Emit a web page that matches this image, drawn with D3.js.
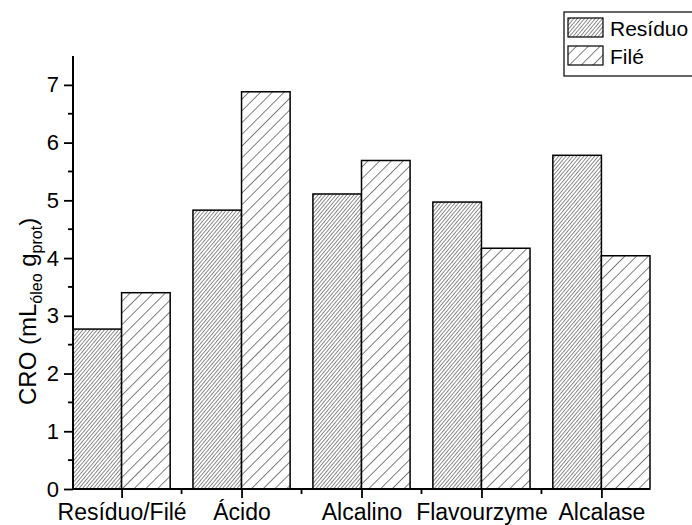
<!DOCTYPE html>
<html>
<head>
<meta charset="utf-8">
<script src="https://cdn.jsdelivr.net/npm/d3@7"></script>
<style>
  html, body { margin: 0; padding: 0; background: #fff; }
  svg { display: block; }
  text { font-family: "Liberation Sans", Arial, Helvetica, sans-serif; fill: #000; }
</style>
</head>
<body>
<svg id="chart" width="692" height="525"></svg>
<script>
// Oil retention capacity per hydrolysis treatment
const categories = ["Resíduo/Filé", "Ácido", "Alcalino", "Flavourzyme", "Alcalase"];
const residuo = [2.77, 4.83, 5.11, 4.97, 5.78];
const file = [3.40, 6.88, 5.69, 4.17, 4.04];
const seriesNames = ["Resíduo", "Filé"];
const yTicks = [0, 1, 2, 3, 4, 5, 6, 7];

const svg = d3.select("#chart");

// plot frame
const plotLeft = 73, plotRight = 650, plotTop = 56, plotBottom = 489;
const halfBar = 0.405;

const x = d3.scaleLinear()
  .domain([-halfBar, categories.length - 1 + halfBar])
  .range([plotLeft, plotRight]);
const y = d3.scaleLinear().domain([0, 7.5]).range([plotBottom, plotTop]);

// hatch patterns
const defs = svg.append("defs");
function hatch(id, spacing, width, angle) {
  const p = defs.append("pattern")
    .attr("id", id)
    .attr("patternUnits", "userSpaceOnUse")
    .attr("width", spacing)
    .attr("height", spacing)
    .attr("patternTransform", `rotate(${angle})`);
  p.append("rect").attr("width", spacing).attr("height", spacing).attr("fill", "#fff");
  p.append("line")
    .attr("x1", 0).attr("y1", 0).attr("x2", 0).attr("y2", spacing)
    .attr("stroke", "#000").attr("stroke-width", width);
}
hatch("hatchDense", 2.75, 0.9, 40);
hatch("hatchSparse", 8.3, 1.0, 45);
const fills = ["url(#hatchDense)", "url(#hatchSparse)"];

// bars
const groups = [residuo, file];
groups.forEach((vals, s) => {
  svg.append("g").selectAll("rect")
    .data(vals)
    .join("rect")
    .attr("x", (d, i) => s === 0 ? x(i - halfBar) : x(i))
    .attr("width", x(halfBar) - x(0))
    .attr("y", d => y(d))
    .attr("height", d => y(0) - y(d))
    .attr("fill", fills[s])
    .attr("stroke", "#000")
    .attr("stroke-width", 1.5);
});

// y axis: major ticks with labels, minor ticks at halves
const yAxis = d3.axisLeft(y).tickValues(yTicks).tickSize(9).tickPadding(5).tickFormat(d3.format("d"));
const gy = svg.append("g").attr("transform", `translate(${plotLeft},0)`).call(yAxis);
gy.select(".domain").attr("stroke-width", 2).attr("d", `M0,${plotBottom}V${plotTop}`);
gy.selectAll(".tick line").attr("stroke-width", 1.8);
gy.selectAll(".tick text").style("font-size", "22px").style("font-family", "'Liberation Sans', Arial, sans-serif");
const yMinor = d3.range(0.5, 7.5, 1);
svg.append("g").selectAll("line").data(yMinor).join("line")
  .attr("x1", plotLeft - 5).attr("x2", plotLeft)
  .attr("y1", d => y(d)).attr("y2", d => y(d))
  .attr("stroke", "#000").attr("stroke-width", 1.8);

// x axis: category ticks and minor ticks between categories
const xAxis = d3.axisBottom(x)
  .tickValues(d3.range(categories.length))
  .tickSize(9).tickPadding(6)
  .tickFormat(i => categories[i]);
const gx = svg.append("g").attr("transform", `translate(0,${plotBottom})`).call(xAxis);
gx.select(".domain").attr("stroke-width", 2).attr("d", `M${plotLeft},0H${plotRight}`);
gx.selectAll(".tick line").attr("stroke-width", 1.8);
gx.selectAll(".tick text").style("font-size", "23px").style("font-family", "'Liberation Sans', Arial, sans-serif");
const xMinor = d3.range(0.5, categories.length - 0.5, 1);
svg.append("g").selectAll("line").data(xMinor).join("line")
  .attr("x1", d => x(d)).attr("x2", d => x(d))
  .attr("y1", plotBottom).attr("y2", plotBottom + 5)
  .attr("stroke", "#000").attr("stroke-width", 1.8);

// y axis title with subscripts
const title = svg.append("text")
  .attr("transform", "translate(36,405) rotate(-90)")
  .attr("text-anchor", "start")
  .style("font-size", "24px");
title.append("tspan").text("CRO (mL");
title.append("tspan").attr("dy", 6).style("font-size", "16px").text("óleo");
title.append("tspan").attr("dy", -6).text(" g");
title.append("tspan").attr("dy", 6).style("font-size", "16px").text("prot");
title.append("tspan").attr("dy", -6).text(")");

// legend
const legend = svg.append("g");
legend.append("rect")
  .attr("x", 564).attr("y", 12).attr("width", 130).attr("height", 64)
  .attr("fill", "#fff").attr("stroke", "#000").attr("stroke-width", 1.2);
seriesNames.forEach((name, s) => {
  const yy = 18 + s * 28;
  legend.append("rect")
    .attr("x", 568).attr("y", yy).attr("width", 35).attr("height", 19)
    .attr("fill", fills[s]).attr("stroke", "#000").attr("stroke-width", 1.2);
  legend.append("text")
    .attr("x", 610).attr("y", yy + 18)
    .style("font-size", "21px")
    .text(name);
});
</script>
</body>
</html>
